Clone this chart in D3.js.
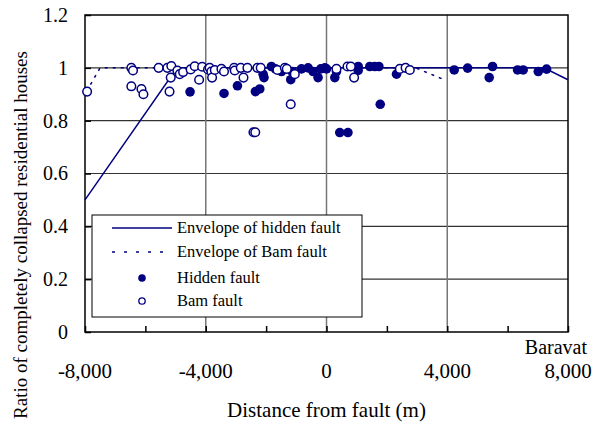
<!DOCTYPE html>
<html lang="en">

<head>
    <meta charset="UTF-8">
    <title>Ratio of collapsed houses</title>
    <script src="https://cdn.jsdelivr.net/npm/d3@7"></script>
    <style>
        body { margin: 0; background: #fff; }
        svg text { font-family: 'Liberation Serif', 'Times New Roman', serif; fill: #000; }
    </style>
</head>

<body>
    <script>
    // data
    var hiddenX = [-4520, -3395, -2950, -2355, -2210, -2100, -2070, -1825, -1690, -1490, -1185, -1140,
        -830, -610, -445, -280, -190, -55, 0, 275, 330, 440, 710, 1050, 1050, 1435, 1600, 1735, 1780,
        2320, 4230, 4675, 5390, 5500, 6330, 6515, 7015, 7290];
    var hiddenY = [0.909, 0.903, 0.932, 0.91, 0.92, 0.976, 0.963, 1.005, 0.996, 0.986, 0.955, 0.986,
        0.996, 1.0, 0.986, 0.963, 0.996, 1.0, 0.996, 0.963, 0.986, 0.755, 0.755, 1.005, 0.99, 1.005, 1.005, 1.005, 0.862,
        0.976, 0.992, 0.999, 0.963, 1.005, 0.992, 0.992, 0.986, 0.995];
    var bamX = [-7930, -6465, -6410, -6465, -6130, -6065, -5560, -5270, -5140, -5200, -5160, -4940, -4860,
        -4750, -4500, -4365, -4220, -4120, -3925, -3870, -3815, -3790, -3700, -3480, -3395, -3060, -3040,
        -2840, -2750, -2620, -2420, -2360, -2290, -2180, -1625, -1380, -1315, -1185, -1050, 330, 695, 805,
        915, 2430, 2620, 2760];
    var bamY = [0.91, 1.0, 0.99, 0.93, 0.92, 0.90, 1.0, 1.0, 1.007, 0.91, 0.963, 0.99, 0.976,
        0.984, 0.994, 1.006, 0.955, 1.004, 0.994, 1.0, 0.986, 0.963, 0.992, 0.996, 0.986, 1.0, 0.99,
        1.0, 0.963, 1.0, 0.756, 0.756, 1.0, 1.0, 0.992, 1.0, 0.996, 0.862, 0.976, 0.996, 1.005, 1.005,
        0.963, 0.996, 1.0, 0.992];
    // envelopes
    var envHiddenX = [-8000, -4950, 7200, 8000];
    var envHiddenY = [0.5, 1.0, 1.0, 0.955];
    var envBamX = [-7950, -7500, 2950, 3900];
    var envBamY = [0.91, 1.0, 1.0, 0.955];
    // ticks
    var xTicks = [-8000, -4000, 0, 4000, 8000];
    var xMinor = [-6000, -2000, 2000, 6000];
    var xGrid = [-4000, 0, 4000];
    var yTicks = [0, 0.2, 0.4, 0.6, 0.8, 1, 1.2];
    var legendLabels = ['Envelope of hidden fault', 'Envelope of Bam fault', 'Hidden fault', 'Bam fault'];

    var width = 593;
    var height = 426;
    var color = '#000080';
    var padding = { top: 15, right: 25, bottom: 94, left: 85 };

    var svg = d3.select('body')
        .append('svg')
        .attr('width', width)
        .attr('height', height);

    var x = d3.scaleLinear()
        .domain([-8000, 8000])
        .range([padding.left, width - padding.right]);
    var y = d3.scaleLinear()
        .domain([0, 1.2])
        .range([height - padding.bottom, padding.top]);

    var plotW = x(8000) - x(-8000);
    var plotH = y(0) - y(1.2);

    // horizontal grid
    svg.append('g')
        .selectAll('line')
        .data(yTicks.slice(1, 6))
        .enter()
        .append('line')
        .attr('x1', x(-8000)).attr('x2', x(8000))
        .attr('y1', function(d) { return y(d); })
        .attr('y2', function(d) { return y(d); })
        .attr('stroke', '#333')
        .attr('stroke-width', 1.2);

    // vertical grid
    svg.append('g')
        .selectAll('line')
        .data(xGrid)
        .enter()
        .append('line')
        .attr('x1', function(d) { return x(d); })
        .attr('x2', function(d) { return x(d); })
        .attr('y1', y(1.2)).attr('y2', y(0))
        .attr('stroke', '#777')
        .attr('stroke-width', 1.5);

    // axes with inward ticks
    var xAxis = d3.axisBottom(x)
        .tickValues(xTicks.concat(xMinor))
        .tickSize(-6)
        .tickFormat('');
    svg.append('g')
        .attr('transform', 'translate(0,' + y(0) + ')')
        .call(xAxis)
        .call(function(g) {
            g.select('.domain').remove();
            g.selectAll('line').attr('stroke', '#000').attr('stroke-width', 1.5);
        });

    var yAxis = d3.axisLeft(y)
        .tickValues(yTicks)
        .tickSize(-6)
        .tickPadding(17)
        .tickFormat(function(d) { return d3.format('')(d); });
    svg.append('g')
        .attr('transform', 'translate(' + x(-8000) + ',0)')
        .call(yAxis)
        .attr('font-size', '20px')
        .call(function(g) {
            g.select('.domain').remove();
            g.selectAll('line').attr('stroke', '#000').attr('stroke-width', 1.5);
        });

    // x tick labels
    svg.append('g')
        .selectAll('text')
        .data(xTicks)
        .enter()
        .append('text')
        .attr('x', function(d) { return x(d); })
        .attr('y', 378)
        .attr('text-anchor', 'middle')
        .attr('font-size', '21px')
        .text(function(d) { return d3.format(',')(d).replace('−', '-'); });

    // place name above the last tick
    svg.append('text')
        .attr('x', 587)
        .attr('y', 354)
        .attr('text-anchor', 'end')
        .attr('font-size', '20px')
        .text('Baravat');

    // frame
    svg.append('rect')
        .attr('x', x(-8000)).attr('y', y(1.2))
        .attr('width', plotW).attr('height', plotH)
        .attr('fill', 'none')
        .attr('stroke', '#000')
        .attr('stroke-width', 1.5);

    // envelopes
    var line = d3.line()
        .x(function(d) { return x(d[0]); })
        .y(function(d) { return y(d[1]); });
    svg.append('path')
        .datum(d3.zip(envHiddenX, envHiddenY))
        .attr('d', line)
        .attr('fill', 'none')
        .attr('stroke', color)
        .attr('stroke-width', 1.5);
    svg.append('path')
        .datum(d3.zip(envBamX, envBamY))
        .attr('d', line)
        .attr('fill', 'none')
        .attr('stroke', color)
        .attr('stroke-width', 1.5)
        .attr('stroke-dasharray', '3,5');

    // points
    svg.append('g')
        .selectAll('circle')
        .data(d3.zip(hiddenX, hiddenY))
        .enter()
        .append('circle')
        .attr('cx', function(d) { return x(d[0]); })
        .attr('cy', function(d) { return y(d[1]); })
        .attr('r', 4.8)
        .attr('fill', color);
    svg.append('g')
        .selectAll('circle')
        .data(d3.zip(bamX, bamY))
        .enter()
        .append('circle')
        .attr('cx', function(d) { return x(d[0]); })
        .attr('cy', function(d) { return y(d[1]); })
        .attr('r', 4.3)
        .attr('fill', '#fff')
        .attr('stroke', color)
        .attr('stroke-width', 1.5);

    // legend
    var legend = svg.append('g');
    legend.append('rect')
        .attr('x', 92).attr('y', 215)
        .attr('width', 270).attr('height', 102)
        .attr('fill', '#fff')
        .attr('stroke', '#000')
        .attr('stroke-width', 1);
    var rowY = [228, 252, 278, 301];
    legend.append('line')
        .attr('x1', 112).attr('x2', 172)
        .attr('y1', rowY[0]).attr('y2', rowY[0])
        .attr('stroke', color).attr('stroke-width', 1.5);
    legend.append('line')
        .attr('x1', 112).attr('x2', 172)
        .attr('y1', rowY[1]).attr('y2', rowY[1])
        .attr('stroke', color).attr('stroke-width', 1.5)
        .attr('stroke-dasharray', '3,9');
    legend.append('circle')
        .attr('cx', 142).attr('cy', rowY[2]).attr('r', 3.8)
        .attr('fill', color);
    legend.append('circle')
        .attr('cx', 142).attr('cy', rowY[3]).attr('r', 3.2)
        .attr('fill', '#fff')
        .attr('stroke', color).attr('stroke-width', 1.3);
    legend.selectAll('text')
        .data(legendLabels)
        .enter()
        .append('text')
        .attr('x', 177)
        .attr('y', function(d, i) { return rowY[i] + 5; })
        .attr('font-size', '16.5px')
        .text(function(d) { return d; });

    // axis titles
    svg.append('text')
        .attr('x', x(0))
        .attr('y', 417)
        .attr('text-anchor', 'middle')
        .attr('font-size', '21px')
        .text('Distance from fault (m)');
    svg.append('text')
        .attr('transform', 'translate(27,' + 235 + ') rotate(-90)')
        .attr('text-anchor', 'middle')
        .attr('font-size', '19px')
        .text('Ratio of completely collapsed residential houses');
    </script>
</body>

</html>
